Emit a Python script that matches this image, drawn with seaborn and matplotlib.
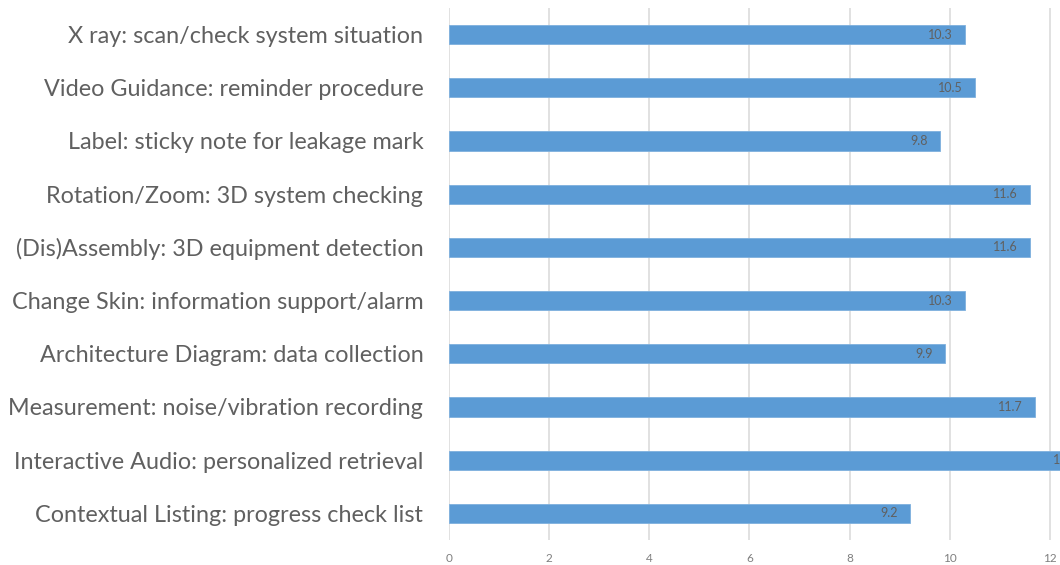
import matplotlib
matplotlib.use("Agg")
import matplotlib.pyplot as plt
import seaborn as sns
import pandas as pd

categories = [
    "X ray: scan/check system situation",
    "Video Guidance: reminder procedure",
    "Label: sticky note for leakage mark",
    "Rotation/Zoom: 3D system checking",
    "(Dis)Assembly: 3D equipment detection",
    "Change Skin: information support/alarm",
    "Architecture Diagram: data collection",
    "Measurement: noise/vibration recording",
    "Interactive Audio: personalized retrieval",
    "Contextual Listing: progress check list",
]
values = [10.3, 10.5, 9.8, 11.6, 11.6, 10.3, 9.9, 11.7, 12.8, 9.2]
xticks = [0, 2, 4, 6, 8, 10, 12]

sns.set_theme(style="white")
plt.rcParams["font.family"] = ["Lato", "DejaVu Sans"]

df = pd.DataFrame({"cat": categories, "val": values})

fig = plt.figure(figsize=(10.6, 5.65), dpi=100)
ax = fig.add_axes([449 / 1060, 25 / 565, 611 / 1060, 532 / 565])

sns.barplot(data=df, x="val", y="cat", orient="h", color="#5B9BD5",
            saturation=1, width=0.36, ax=ax, edgecolor="#7EB0DE", linewidth=0.6)

ax.set_xlim(0, 12.2)
ax.set_ylim(len(categories) - 0.5, -0.5)
ax.set_xticks(xticks)
ax.set_xticklabels([str(t) for t in xticks])
ax.grid(axis="x", color="#D9D9D9", linewidth=1.1)
ax.set_axisbelow(True)
for s in ax.spines.values():
    s.set_visible(False)
ax.set_xlabel("")
ax.set_ylabel("")
ax.tick_params(axis="y", length=0, pad=18.5, labelsize=16.8, labelcolor="#606060")
ax.tick_params(axis="x", length=0, pad=9, labelsize=8.5, labelcolor="#7F7F7F")

for p, v in zip(ax.containers[0].patches, values):
    y = p.get_y() + p.get_height() / 2
    ax.annotate(f"{v}", xy=(p.get_width(), y), xytext=(-8.6, 0),
                textcoords="offset points", ha="right", va="center",
                fontsize=9, color="#606060", annotation_clip=False)

fig.savefig("out.png", dpi=100)
